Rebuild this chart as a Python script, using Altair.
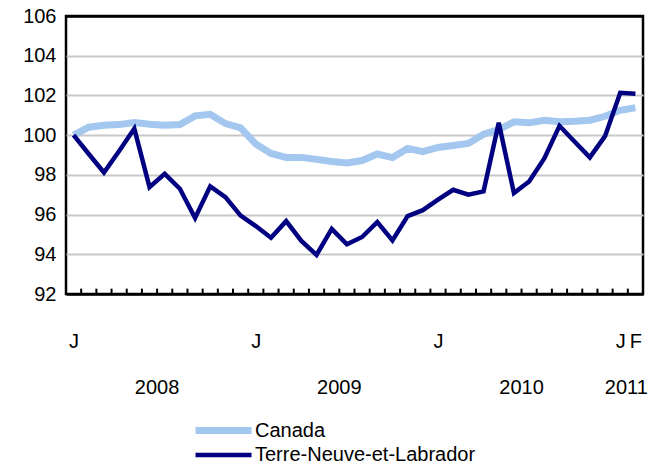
import altair as alt
import pandas as pd

months = list(range(38))
canada = [100.0, 100.4, 100.5, 100.53, 100.63, 100.55, 100.5, 100.53, 100.97, 101.05,
          100.58, 100.37, 99.55, 99.08, 98.88, 98.88, 98.78, 98.67, 98.6, 98.72,
          99.05, 98.87, 99.33, 99.17, 99.38, 99.48, 99.58, 100.05, 100.28, 100.67,
          100.62, 100.75, 100.68, 100.7, 100.75, 100.95, 101.25, 101.38]
nl = [100.0, 99.05, 98.12, 99.2, 100.33, 97.38, 98.05, 97.3, 95.83, 97.42,
      96.88, 95.95, 95.42, 94.83, 95.67, 94.67, 93.97, 95.28, 94.5, 94.87,
      95.62, 94.7, 95.92, 96.22, 96.75, 97.25, 97.0, 97.17, 100.62, 97.08,
      97.67, 98.83, 100.47, 99.67, 98.88, 99.95, 102.13, 102.08]
series_names = ["Canada", "Terre-Neuve-et-Labrador"]
series_colors = ["#a3c7ef", "#000080"]
series_widths = [7, 4.5]

y_ticks = [92, 94, 96, 98, 100, 102, 104, 106]
month_label_pos = [0, 12, 24, 36, 37]
month_label_txt = ["J", "J", "J", "J", "F"]
years = ["2008", "2009", "2010", "2011"]
year_centers = [5.5, 17.5, 29.5, 36.4]
tick_bounds = [m + 0.5 for m in range(37)]

FONT = "Liberation Sans"
FS = 20

df = pd.DataFrame({
    "month": months * 2,
    "value": canada + nl,
    "series": [series_names[0]] * 38 + [series_names[1]] * 38,
})

x_scale = alt.Scale(domain=[-0.5, 37.5], nice=False, zero=False)
y_scale = alt.Scale(domain=[92, 106], nice=False, zero=False)

label_map = "{" + ",".join(f"'{p}':'{t}'" for p, t in zip(month_label_pos, month_label_txt)) + "}"
edge_test = f"datum.value == {y_ticks[0]} || datum.value == {y_ticks[-1]}"

x_axis = alt.Axis(values=month_label_pos, labelExpr=f"{label_map}[datum.value]",
                  title=None, grid=False, domain=False, ticks=False,
                  labelPadding=37, labelFontSize=FS, labelFont=FONT,
                  labelColor="black", labelOverlap=False, labelFlush=False)
y_axis = alt.Axis(values=y_ticks, title=None,
                  grid=True,
                  gridColor={"condition": {"test": edge_test, "value": "black"}, "value": "#c8c8c8"},
                  gridWidth={"condition": {"test": edge_test, "value": 2.5}, "value": 2},
                  domain=False, ticks=False, labelPadding=10,
                  labelOverlap=False, labelFlush=False,
                  labelFontSize=FS, labelFont=FONT, labelColor="black")

lines = alt.Chart(df).mark_line(strokeJoin="miter", strokeCap="butt").encode(
    x=alt.X("month:Q", scale=x_scale, axis=x_axis),
    y=alt.Y("value:Q", scale=y_scale, axis=y_axis),
    color=alt.Color("series:N",
                    scale=alt.Scale(domain=series_names, range=series_colors),
                    legend=alt.Legend(title=None, orient="none", legendX=168, legendY=404,
                                      symbolType="M-7,0H1", symbolSize=196,
                                      symbolStrokeWidth=6, labelFontSize=FS,
                                      labelFont=FONT, labelColor="black", labelLimit=400,
                                      rowPadding=0, labelOffset=0)),
    strokeWidth=alt.StrokeWidth("series:N",
                                scale=alt.Scale(domain=series_names, range=series_widths),
                                legend=None),
)

tick_df = pd.DataFrame({"b": tick_bounds, "y0": [92] * len(tick_bounds),
                        "y1": [92.27] * len(tick_bounds)})
ticks = alt.Chart(tick_df).mark_rule(color="black", strokeWidth=2).encode(
    x=alt.X("b:Q", scale=x_scale, axis=x_axis),
    y=alt.Y("y0:Q", scale=y_scale, axis=y_axis),
    y2="y1:Q",
)

year_text = alt.Chart(pd.DataFrame({"year": years, "c": year_centers})).mark_text(
    fontSize=FS, font=FONT, color="black", baseline="middle", align="center"
).encode(
    x=alt.X("c:Q", scale=x_scale, axis=x_axis),
    y=alt.value(372),
    text="year:N",
)

chart = alt.layer(lines, ticks, year_text).properties(
    width=577, height=278,
    autosize=alt.AutoSizeParams(type="none"),
    padding={"left": 58, "top": 8, "right": 6, "bottom": 170},
).configure(background="white").configure_view(stroke="black", strokeWidth=2.5)

chart.save("out.html", embed_options={"renderer": "svg", "actions": False})
